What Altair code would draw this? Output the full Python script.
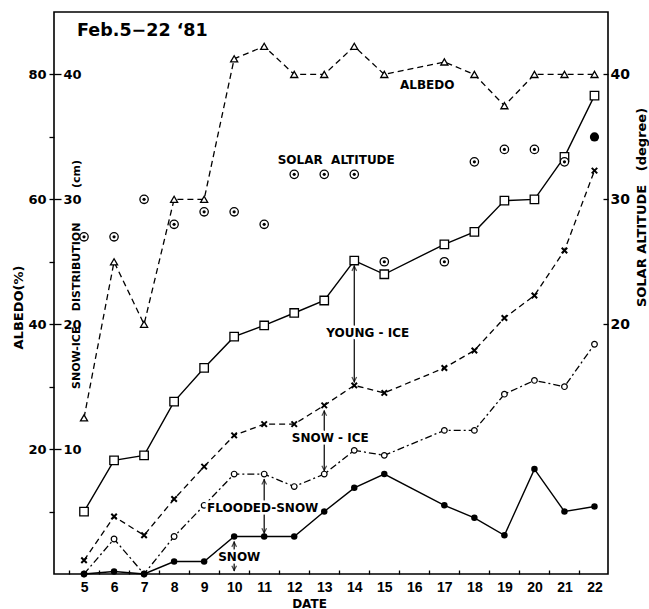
import altair as alt
import pandas as pd

# ---------------- data ----------------
dates = [5, 6, 7, 8, 9, 10, 11, 12, 13, 14, 15, 17, 18, 19, 20, 21, 22]
albedo_pct = [25, 50, 40, 60, 60, 82.5, 84.5, 80, 80, 84.5, 80, 82, 80, 75, 80, 80, 80]

solar_dates = [5, 6, 7, 8, 9, 10, 11, 12, 13, 14, 15, 17, 18, 19, 20, 21]
solar_deg = [27, 27, 30, 28, 29, 29, 28, 32, 32, 32, 25, 25, 33, 34, 34, 33]
solar_dates_filled = [22]
solar_deg_filled = [35]

young_cm = [5.0, 9.1, 9.5, 13.8, 16.5, 19.0, 19.9, 20.9, 21.9, 25.1, 24.0, 26.4, 27.4, 29.9, 30.0, 33.4, 38.3]
snowice_cm = [1.1, 4.6, 3.1, 6.0, 8.6, 11.1, 12.0, 12.0, 13.5, 15.1, 14.5, 16.5, 17.9, 20.5, 22.3, 25.9, 32.3]
flooded_cm = [0, 2.8, 0, 3.0, 5.5, 8.0, 8.0, 7.0, 8.0, 9.9, 9.5, 11.5, 11.5, 14.4, 15.5, 15.0, 18.4]
snow_cm = [0, 0.2, 0, 1.0, 1.0, 3.0, 3.0, 3.0, 5.0, 6.9, 8.0, 5.5, 4.5, 3.1, 8.4, 5.0, 5.4]

axis_dates = list(range(5, 23))
albedo_tick_cm = [5, 10, 15, 20, 25, 30, 35, 40]
cm_ticks = [10, 20, 30, 40]
solar_ticks = [20, 30, 40]

title_text = "Feb.5\u221222 \u201881"
title_date = [4.77]
title_v = [43.5]

label_text = ["ALBEDO", "SOLAR\u00a0\u00a0ALTITUDE", "YOUNG - ICE", "SNOW - ICE", "FLOODED-SNOW", "SNOW"]
label_date = [16.43, 13.4, 14.45, 13.2, 10.95, 10.17]
label_v = [39.15, 33.15, 19.3, 10.9, 5.3, 1.35]

arrow_date = [14, 13, 11, 10]

# ---------------- tables ----------------
FONT = "DejaVu Sans"
FONT2 = "Liberation Sans"
df_alb = pd.DataFrame({"date": dates, "v": [a / 2 for a in albedo_pct]})
df_sol = pd.DataFrame({"date": solar_dates, "v": solar_deg})
df_solf = pd.DataFrame({"date": solar_dates_filled, "v": solar_deg_filled})
df_young = pd.DataFrame({"date": dates, "v": young_cm})
df_si = pd.DataFrame({"date": dates, "v": snowice_cm})
df_fl = pd.DataFrame({"date": dates, "v": flooded_cm})
df_sn = pd.DataFrame({"date": dates, "v": snow_cm})

lookup = {
    "young": dict(zip(dates, young_cm)),
    "si": dict(zip(dates, snowice_cm)),
    "fl": dict(zip(dates, flooded_cm)),
    "sn": dict(zip(dates, snow_cm)),
}
arrow_top = [lookup["young"][14], lookup["si"][13], lookup["fl"][11], lookup["sn"][10]]
arrow_bot = [lookup["si"][14], lookup["fl"][13], lookup["sn"][11], 0]
df_arrow = pd.DataFrame({"date": arrow_date, "top": arrow_top, "bot": arrow_bot})
df_lab = pd.DataFrame({"date": label_date, "v": label_v, "t": label_text})
df_title = pd.DataFrame({"date": title_date, "v": title_v, "t": [title_text]})

xs = alt.Scale(domain=[4.0, 22.45], nice=False)
ys = alt.Scale(domain=[0, 45], nice=False)


def X(axis=None):
    return alt.X("date:Q", scale=xs, axis=axis)


def Y(field="v", axis=None):
    return alt.Y(f"{field}:Q", scale=ys, axis=axis)


bottom_axis = alt.Axis(
    orient="bottom", values=axis_dates, format="d",
    tickOffset=-15, labelOffset=15,
    tickSize=4, offset=-4, domain=False, labelPadding=6, grid=False,
    labelFlush=False, labelOverlap=False,
    labelFont=FONT2, labelFontSize=14,
    title="DATE", titleX=255, titleY=33, titleAlign="center", titleBaseline="middle",
    titleFontSize=12,
)
left_axis = alt.Axis(
    orient="left", values=albedo_tick_cm,
    labelExpr="datum.value % 10 == 0 ? format(datum.value * 2, 'd') : ''",
    tickSize=5, domain=False, labelPadding=3, grid=False, labelFontSize=13,
    title="ALBEDO(%)", titleX=-36, titleY=295, titleAngle=270,
    titleAlign="center", titleBaseline="middle", titleFontSize=13,
)
inner_axis = alt.Axis(
    orient="left", values=cm_ticks, offset=-7, tickSize=7, domain=False,
    labelAlign="left", labelPadding=-9, grid=False, labelFontSize=13,
    title="SNOW-ICE" + "\u00a0" * 4 + "DISTRIBUTION" + "\u00a0" * 9 + "(cm)",
    titleX=15, titleY=262, titleAngle=270,
    titleAlign="center", titleBaseline="middle", titleFontSize=11,
)
right_axis = alt.Axis(
    orient="right", values=solar_ticks, offset=-5, tickSize=5, domain=False,
    labelPadding=2, grid=False, labelFontSize=14,
    title="SOLAR\u00a0ALTITUDE\u00a0\u00a0\u00a0(degree)", titleX=38, titleY=195, titleAngle=270,
    titleAlign="center", titleBaseline="middle", titleFontSize=13,
)

layers = []

# lines
layers.append(alt.Chart(df_young).mark_line(color="black", strokeWidth=1.4).encode(
    x=X(bottom_axis), y=Y(axis=left_axis)))
layers.append(alt.Chart(df_alb).mark_line(color="black", strokeWidth=1.3, strokeDash=[6, 4]).encode(
    x=X(), y=Y(axis=inner_axis)))
layers.append(alt.Chart(df_si).mark_line(color="black", strokeWidth=1.3, strokeDash=[6, 4]).encode(
    x=X(), y=Y()))
layers.append(alt.Chart(df_fl).mark_line(color="black", strokeWidth=1.3, strokeDash=[7, 3, 2, 3]).encode(
    x=X(), y=Y()))
layers.append(alt.Chart(df_sn).mark_line(color="black", strokeWidth=1.4).encode(
    x=X(), y=Y()))

# arrows
layers.append(alt.Chart(df_arrow).mark_rule(color="black", strokeWidth=1.2, yOffset=5, y2Offset=-3).encode(
    x=X(), y=Y("top"), y2="bot:Q"))
layers.append(alt.Chart(df_arrow).mark_point(
    shape="M-1,1L0,-1L1,1", filled=False, color="black", strokeWidth=1.2, size=22, yOffset=8).encode(
    x=X(), y=Y("top")))
layers.append(alt.Chart(df_arrow).mark_point(
    shape="M-1,-1L0,1L1,-1", filled=False, color="black", strokeWidth=1.2, size=22, yOffset=-6).encode(
    x=X(), y=Y("bot")))

# markers
layers.append(alt.Chart(df_alb).mark_point(
    shape="triangle-up", filled=True, fill="white", stroke="black", strokeWidth=1.3, size=50, opacity=1).encode(
    x=X(), y=Y()))
layers.append(alt.Chart(df_young).mark_point(
    shape="square", filled=True, fill="white", stroke="black", strokeWidth=1.3, size=72, opacity=1).encode(
    x=X(), y=Y()))
layers.append(alt.Chart(df_si).mark_point(
    shape="M-1,-1L1,1M-1,1L1,-1", filled=False, stroke="black", strokeWidth=2, size=30, opacity=1).encode(
    x=X(), y=Y()))
layers.append(alt.Chart(df_fl).mark_point(
    shape="circle", filled=True, fill="white", stroke="black", strokeWidth=1.2, size=32, opacity=1).encode(
    x=X(), y=Y()))
layers.append(alt.Chart(df_sn).mark_point(
    shape="circle", filled=True, color="black", size=42, opacity=1).encode(
    x=X(), y=Y()))

# solar altitude: circled dots
layers.append(alt.Chart(df_sol).mark_point(
    shape="circle", filled=True, fill="white", stroke="black", strokeWidth=1.3, size=70, opacity=1).encode(
    x=X(), y=Y(axis=right_axis)))
layers.append(alt.Chart(df_sol).mark_point(
    shape="circle", filled=True, color="black", size=10, opacity=1).encode(
    x=X(), y=Y()))
layers.append(alt.Chart(df_solf).mark_point(
    shape="circle", filled=True, color="black", size=85, opacity=1).encode(
    x=X(), y=Y()))

# labels (white halo so arrows break around the text)
layers.append(alt.Chart(df_lab).mark_text(
    font=FONT, fontWeight="bold", fontSize=12, color="white", stroke="white", strokeWidth=5,
    strokeJoin="round").encode(x=X(), y=Y(), text="t:N"))
layers.append(alt.Chart(df_lab).mark_text(
    font=FONT, fontWeight="bold", fontSize=12, color="black").encode(x=X(), y=Y(), text="t:N"))
layers.append(alt.Chart(df_title).mark_text(
    font=FONT, fontWeight="bold", fontSize=17.5, color="black", align="left").encode(
    x=X(), y=Y(), text="t:N"))

chart = alt.layer(*layers).resolve_axis(x="independent", y="independent").properties(
    width=554, height=562,
    autosize=alt.AutoSizeParams(type="none"),
    padding={"left": 54, "top": 12, "right": 41, "bottom": 35},
    background="white",
).configure_view(
    stroke="black", strokeWidth=1.6
).configure_axis(
    labelFont=FONT, labelFontWeight="bold", labelColor="black",
    titleFont=FONT, titleFontWeight="bold", titleColor="black",
    tickColor="black", tickWidth=1.3,
)

chart.save("out.html", embed_options={"renderer": "svg", "actions": False})
